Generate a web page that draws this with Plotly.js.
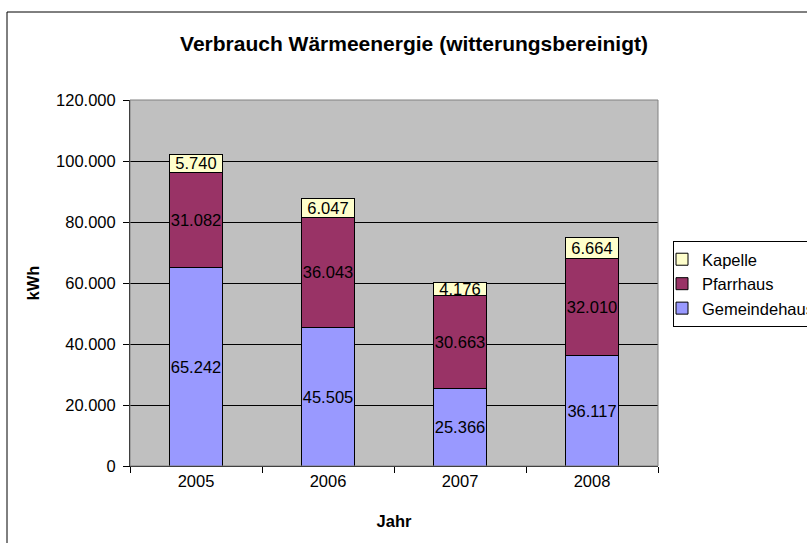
<!DOCTYPE html>
<html>
<head>
<meta charset="utf-8">
<script src="https://cdn.plot.ly/plotly-3.0.1.min.js"></script>
<style>html,body{margin:0;padding:0;background:#fff;}#chart{width:807px;height:543px;}</style>
</head>
<body>
<div id="chart"></div>
<script>
var years = ['2005', '2006', '2007', '2008'];
var gemeindehaus = [65242, 45505, 25366, 36117];
var pfarrhaus = [31082, 36043, 30663, 32010];
var kapelle = [5740, 6047, 4176, 6664];
var yTickVals = [0, 20000, 40000, 60000, 80000, 100000, 120000];
var yTickLabels = ['0', '20.000', '40.000', '60.000', '80.000', '100.000', '120.000'];

function fmt(v) {
  return String(v).replace(/\B(?=(\d{3})+(?!\d))/g, '.');
}

var FONT = 'Liberation Sans, Arial, sans-serif';
var labelFont = {family: FONT, size: 16.5, color: '#000'};

function series(name, vals, color) {
  return {
    type: 'bar', name: name, x: years, y: vals,
    marker: {color: color, line: {color: '#000', width: 1}},
    text: vals.map(fmt), textposition: 'inside', insidetextanchor: 'middle',
    textangle: 0, constraintext: 'none', textfont: labelFont, hoverinfo: 'skip'
  };
}

var data = [
  series('Gemeindehaus', gemeindehaus, '#9999FF'),
  series('Pfarrhaus', pfarrhaus, '#993366'),
  series('Kapelle', kapelle, '#FFFFCC')
];

var L = 130, R = 658, T = 100, B = 466, W = 807, H = 543;
function px(x) { return (x - L) / (R - L); }
function py(y) { return (B - y) / (B - T); }

var layout = {
  width: W, height: H,
  margin: {l: L, r: W - R, t: T, b: H - B, autoexpand: false},
  paper_bgcolor: '#fff', plot_bgcolor: '#C0C0C0',
  barmode: 'stack', bargap: 0.593,
  font: {family: FONT, size: 16.5, color: '#000'},
  title: {
    text: '<b>Verbrauch Wärmeenergie (witterungsbereinigt)</b>',
    font: {family: FONT, size: 21, color: '#000'},
    xref: 'container', x: 414 / W, xanchor: 'center',
    yref: 'container', y: 1 - 44 / H, yanchor: 'middle'
  },
  xaxis: {
    type: 'category', tickson: 'boundaries', ticks: 'outside', ticklen: 6,
    tickcolor: '#000', showline: true, linecolor: '#000', linewidth: 1,
    showgrid: false, automargin: false,
    tickfont: {family: FONT, size: 16.5, color: '#000'},
    title: {text: '<b>Jahr</b>', font: {family: FONT, size: 16.5, color: '#000'}, standoff: 26}
  },
  yaxis: {
    range: [0, 120000], tickvals: yTickVals, ticktext: yTickLabels,
    ticks: 'outside', ticklen: 6, tickcolor: '#000',
    showline: true, linecolor: '#000', linewidth: 1,
    showgrid: true, gridcolor: '#000', gridwidth: 1, zeroline: false,
    automargin: false, ticklabelstandoff: 4,
    tickfont: {family: FONT, size: 16.5, color: '#000'},
    title: {text: '<b>kWh</b>', font: {family: FONT, size: 16.5, color: '#000'}, standoff: 12}
  },
  legend: {
    x: px(673), y: py(241), xanchor: 'left', yanchor: 'top',
    traceorder: 'reversed', bgcolor: '#fff', bordercolor: '#000', borderwidth: 1,
    indentation: -12,
    font: {family: FONT, size: 16.5, color: '#000'}
  },
  shapes: [
    {type: 'rect', xref: 'paper', yref: 'paper', x0: 0, x1: 1, y0: 0, y1: 1,
     line: {color: '#808080', width: 1}, layer: 'above'},
    {type: 'rect', xref: 'paper', yref: 'paper', x0: px(7), x1: px(830), y0: py(12), y1: py(580),
     line: {color: '#000', width: 1}, layer: 'above'}
  ],
  hovermode: false
};

Plotly.newPlot('chart', data, layout, {displayModeBar: false, staticPlot: true});
</script>
</body>
</html>
